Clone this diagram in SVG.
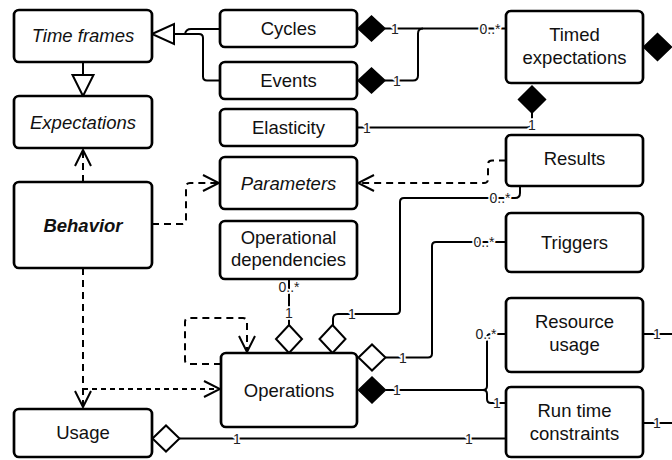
<svg xmlns="http://www.w3.org/2000/svg" width="672" height="460" viewBox="0 0 672 460">
<style>
.box{fill:#fff;stroke:#000;stroke-width:2.7}
.t{font-family:"Liberation Sans",Arial,sans-serif;font-size:18.5px;fill:#111;text-anchor:middle}
.it{font-style:italic}
.bi{font-style:italic;font-weight:bold}
.ln{fill:none;stroke:#000;stroke-width:2}
.dash{fill:none;stroke:#000;stroke-width:2;stroke-dasharray:7,5}
.lbl{font-family:"Liberation Sans",Arial,sans-serif;font-size:14px;fill:#222;text-anchor:middle;stroke:#fff;stroke-width:3.5;paint-order:stroke;stroke-linejoin:round}
.fd{fill:#000;stroke:#000;stroke-width:1.5}
.hd{fill:#fff;stroke:#000;stroke-width:2}
</style>
<defs>
<marker id="open" markerUnits="userSpaceOnUse" markerWidth="20" markerHeight="20" viewBox="0 0 20 20" refX="18" refY="10" orient="auto">
<path d="M2,2 L18,10 L2,18" fill="none" stroke="#000" stroke-width="2"/>
</marker>
</defs>

<g id="connectors">
<!-- generalizations -->
<path class="ln" d="M220,29 H191 Q186,29 185,34 H174"/>
<path class="ln" d="M220,80.5 H207 Q203,80.5 203,76.5 V38 Q203,34 199,34 H174"/>
<polygon class="hd" points="152,34 174,24 174,44"/>
<path class="ln" d="M83,62 V75"/>
<polygon class="hd" points="83,96 72.5,75 93.5,75"/>
<!-- dependencies -->
<path class="dash" d="M83,182 V150" marker-end="url(#open)"/>
<path class="dash" d="M152,224 H182 Q186,224 186,220 V187 Q186,183 190,183 H219" marker-end="url(#open)"/>
<path class="dash" d="M506,160.5 H492 Q488,160.5 488,164.5 V179 Q488,183 484,183 H358" marker-end="url(#open)"/>
<path class="dash" d="M83,268 V407" marker-end="url(#open)"/>
<path class="dash" d="M83,389 H220" marker-end="url(#open)" style="stroke-dasharray:5,4"/>
<path class="dash" d="M221,364 H189 Q185,364 185,360 V322 Q185,318 189,318 H243 Q247,318 247,322 V352" marker-end="url(#open)"/>
<!-- associations -->
<path class="ln" d="M385,28.5 H506"/>
<polygon class="fd" points="358,28.5 371.5,16 385,28.5 371.5,41"/>
<path class="ln" d="M385,80.5 H413 Q418,80.5 418,75.5 V33.5 Q418,28.5 423,28.5"/>
<polygon class="fd" points="358,80.5 371.5,68 385,80.5 371.5,93"/>
<path class="ln" d="M357,127.5 H527 Q532,127.5 532,122.5 V113"/>
<polygon class="fd" points="532,86 545.5,99.5 532,113 518.5,99.5"/>
<polygon class="fd" points="643.5,47 657.5,33.5 671.5,47 657.5,60.5"/>
<path class="ln" d="M520,186 V193 Q520,198 515,198 H404 Q400,198 400,202 V310 Q400,314 396,314 H338 Q333,314 333,319 V325"/>
<polygon class="hd" points="332.5,325 345.5,339 332.5,353 319.5,339"/>
<path class="ln" d="M289,279 V325"/>
<polygon class="hd" points="289,325 302,339 289,353 276,339"/>
<path class="ln" d="M385.5,357.5 H428 Q432,357.5 432,353.5 V246 Q432,242 436,242 H506"/>
<polygon class="hd" points="358.5,357.5 372,344.5 385.5,357.5 372,370.5"/>
<path class="ln" d="M385.5,390 H483 Q487,390 487,386 V338 Q487,334 491,334 H506"/>
<path class="ln" d="M483,390 Q487,390 487,394 V399 Q487,403 491,403 H506"/>
<polygon class="fd" points="358.5,390 372,377 385.5,390 372,403"/>
<path class="ln" d="M643,334 H672"/>
<path class="ln" d="M643,423 H672"/>
<path class="ln" d="M179.5,438.5 H506"/>
<polygon class="hd" points="152.5,438.5 166,425.5 179.5,438.5 166,451.5"/>
<!-- labels -->
<text class="lbl" x="395" y="33.5">1</text>
<text class="lbl" x="490" y="33.5">0..*</text>
<text class="lbl" x="397" y="85.5">1</text>
<text class="lbl" x="367" y="132.5">1</text>
<text class="lbl" x="532" y="129.5">1</text>
<text class="lbl" x="500" y="202.5">0..*</text>
<text class="lbl" x="352" y="319">1</text>
<text class="lbl" x="289" y="291.5">0..*</text>
<text class="lbl" x="289" y="318">1</text>
<text class="lbl" x="484" y="247">0..*</text>
<text class="lbl" x="403" y="362.5">1</text>
<text class="lbl" x="397" y="395">1</text>
<text class="lbl" x="486" y="339">0..*</text>
<text class="lbl" x="497" y="408">1</text>
<text class="lbl" x="657" y="339">1</text>
<text class="lbl" x="657" y="428">1</text>
<text class="lbl" x="237" y="443.5">1</text>
<text class="lbl" x="469" y="443.5">1</text>
</g>

<g id="time-frames"><rect class="box" x="14" y="10" width="138" height="52" rx="5"/><text class="t it" x="83" y="42">Time frames</text></g>
<g id="expectations"><rect class="box" x="14" y="96" width="138" height="52" rx="5"/><text class="t it" x="83" y="128.5">Expectations</text></g>
<g id="behavior"><rect class="box" x="14" y="182" width="138" height="86" rx="5"/><text class="t bi" x="83" y="231.5">Behavior</text></g>
<g id="usage"><rect class="box" x="14" y="409" width="138" height="48" rx="5"/><text class="t" x="83" y="439">Usage</text></g>
<g id="cycles"><rect class="box" x="220" y="10" width="137" height="37" rx="5"/><text class="t" x="288.5" y="35">Cycles</text></g>
<g id="events"><rect class="box" x="220" y="62" width="137" height="37" rx="5"/><text class="t" x="288.5" y="87">Events</text></g>
<g id="elasticity"><rect class="box" x="220" y="109" width="137" height="37" rx="5"/><text class="t" x="288.5" y="134">Elasticity</text></g>
<g id="parameters"><rect class="box" x="220" y="157" width="137" height="52" rx="5"/><text class="t it" x="288.5" y="189.5">Parameters</text></g>
<g id="operational-dependencies"><rect class="box" x="220" y="221" width="137" height="58" rx="5"/><text class="t" x="288.5" y="243.5">Operational</text><text class="t" x="288.5" y="265.5">dependencies</text></g>
<g id="operations"><rect class="box" x="221" y="353" width="136" height="74" rx="5"/><text class="t" x="289" y="396.5">Operations</text></g>
<g id="timed-expectations"><rect class="box" x="506" y="11" width="137" height="72" rx="5"/><text class="t" x="574.5" y="41">Timed</text><text class="t" x="574.5" y="63.5">expectations</text></g>
<g id="results"><rect class="box" x="506" y="135" width="137" height="51" rx="5"/><text class="t" x="574.5" y="165">Results</text></g>
<g id="triggers"><rect class="box" x="506" y="213" width="137" height="59" rx="5"/><text class="t" x="574.5" y="249">Triggers</text></g>
<g id="resource-usage"><rect class="box" x="506" y="298" width="137" height="74" rx="5"/><text class="t" x="574.5" y="327.5">Resource</text><text class="t" x="574.5" y="351">usage</text></g>
<g id="run-time-constraints"><rect class="box" x="506" y="387" width="137" height="70" rx="5"/><text class="t" x="574.5" y="416.5">Run time</text><text class="t" x="574.5" y="439.5">constraints</text></g>
</svg>
